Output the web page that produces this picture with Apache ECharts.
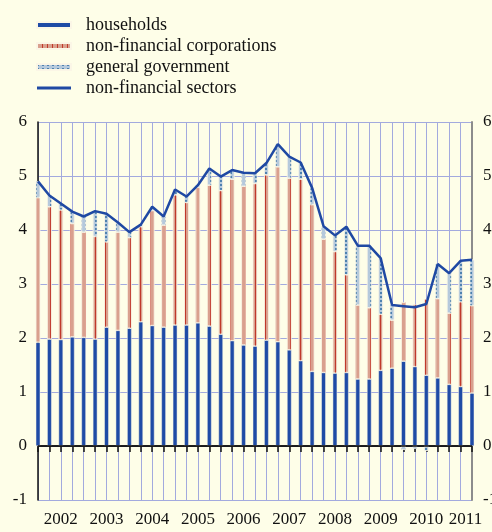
<!DOCTYPE html>
<html>
<head>
<meta charset="utf-8">
<script src="https://cdn.jsdelivr.net/npm/echarts@6/dist/echarts.min.js"></script>
<style>
  html, body { margin: 0; padding: 0; background: #fefee8; }
  #chart { width: 492px; height: 532px; }
</style>
</head>
<body>
<div id="chart"></div>
<script>
// Quarterly, 2002 Q1 - 2011 Q3
const years = ['2002', '2003', '2004', '2005', '2006', '2007', '2008', '2009', '2010', '2011'];
const categories = [];
years.forEach((y) => ['Q1', 'Q2', 'Q3', 'Q4'].forEach((q) => categories.push(y + q)));
categories.length = 39;

const households = [1.92, 1.98, 1.97, 2.02, 2.01, 1.98, 2.20, 2.14, 2.18, 2.30, 2.23, 2.20, 2.24,
  2.24, 2.28, 2.22, 2.07, 1.95, 1.87, 1.85, 1.96, 1.93, 1.78, 1.58, 1.38, 1.36, 1.35, 1.36,
  1.24, 1.24, 1.40, 1.44, 1.57, 1.47, 1.31, 1.26, 1.14, 1.10, 0.98];
const corporations = [2.68, 2.45, 2.40, 2.10, 1.95, 1.90, 1.58, 1.82, 1.68, 1.76, 2.13, 1.89, 2.41,
  2.27, 2.51, 2.61, 2.66, 2.99, 2.94, 3.01, 3.06, 3.24, 3.18, 3.36, 3.09, 2.47, 2.25, 1.81,
  1.37, 1.32, 1.04, 0.89, 1.09, 1.15, 1.41, 1.47, 1.32, 1.57, 1.62];
const government = [0.30, 0.21, 0.12, 0.22, 0.29, 0.47, 0.52, 0.18, 0.10, 0.04, 0.07, 0.16, 0.10,
  0.11, 0.04, 0.31, 0.26, 0.17, 0.25, 0.19, 0.22, 0.42, 0.40, 0.31, 0.31, 0.24, 0.30, 0.89,
  1.10, 1.15, 1.04, 0.28, -0.07, -0.05, -0.09, 0.64, 0.74, 0.76, 0.85];
const nonFinancial = [4.90, 4.64, 4.49, 4.34, 4.25, 4.35, 4.30, 4.14, 3.96, 4.10, 4.43, 4.25, 4.75,
  4.62, 4.83, 5.14, 4.99, 5.11, 5.06, 5.05, 5.24, 5.59, 5.36, 5.25, 4.78, 4.07, 3.90, 4.06,
  3.71, 3.71, 3.48, 2.61, 2.59, 2.57, 2.63, 3.37, 3.20, 3.43, 3.45];

const font = '"Liberation Serif", "DejaVu Serif", serif';
const gridColor = '#a3aade';
const c = {
  blue: '#1f4ba6',
  salmon: '#d9a08e',
  red: '#c0392b',
  govFill: '#b5c9dc',
  govLine: '#4f82b0',
  line: '#1f49a3',
  edge: '#fbf6e6',
};

const chart = echarts.init(document.getElementById('chart'), null, { renderer: 'canvas' });

const barBase = { type: 'bar', stack: 'total', barWidth: 4.5, clip: false };

chart.setOption({
  backgroundColor: '#fefee8',
  animation: false,
  textStyle: { fontFamily: font, color: '#111' },
  legend: {
    orient: 'vertical',
    left: 36,
    top: 16,
    padding: 0,
    itemWidth: 34,
    itemHeight: 6,
    itemGap: 3,
    symbolKeepAspect: true,
    textStyle: { fontFamily: font, fontSize: 18, color: '#111', padding: [0, 0, 0, 10] },
    data: [
      { name: 'households', icon: 'rect' },
      { name: 'non-financial corporations', icon: 'rect' },
      { name: 'general government', icon: 'rect' },
      { name: 'non-financial sectors', icon: 'path://M0,0H34V3H0Z', itemStyle: { color: c.line } },
    ],
  },
  grid: { left: 38, right: 20, top: 122, bottom: 32, outerBoundsMode: 'none' },
  xAxis: {
    type: 'category',
    data: categories,
    boundaryGap: false,
    axisLine: { lineStyle: { color: '#111', width: 1.5 } },
    axisTick: { interval: 0, length: 6, lineStyle: { color: '#111', width: 1.5 } },
    axisLabel: {
      interval: (i) => i % 4 === 2,
      // last year sits at the plot edge, nudge it left a little
      formatter: (v, i) => (i === categories.length - 1 ? '{last|' + v.slice(0, 4) + '}' : v.slice(0, 4)),
      rich: { last: { fontSize: 17, fontFamily: font, color: '#111', padding: [0, 13, 0, 0] } },
      fontSize: 17,
      color: '#111',
      margin: 11,
    },
    splitLine: { show: true, interval: 0, lineStyle: { color: gridColor, width: 1 } },
  },
  yAxis: [
    {
      type: 'value', min: -1, max: 6, interval: 1,
      axisLine: { show: true, lineStyle: { color: '#111', width: 1.5 } },
      axisTick: { show: false },
      axisLabel: { fontSize: 17, color: '#111', margin: 11 },
      splitLine: { lineStyle: { color: gridColor, width: 1 } },
    },
    {
      type: 'value', min: -1, max: 6, interval: 1, position: 'right',
      axisLine: { show: true, lineStyle: { color: '#8c8c8c', width: 2 } },
      axisTick: { show: false },
      axisLabel: { fontSize: 17, color: '#111', margin: 11 },
      splitLine: { show: false },
    },
  ],
  series: [
    {
      ...barBase,
      name: 'households',
      data: households,
      itemStyle: { color: c.blue, borderColor: c.edge, borderWidth: 0.5 },
    },
    {
      ...barBase,
      name: 'non-financial corporations',
      data: corporations,
      itemStyle: {
        color: c.salmon, borderColor: c.edge, borderWidth: 0.5,
        decal: { symbol: 'rect', symbolSize: 1, color: c.red, dashArrayX: [1, 4], dashArrayY: [4, 0] },
      },
    },
    {
      ...barBase,
      name: 'general government',
      data: government,
      itemStyle: {
        color: c.govFill, borderColor: c.edge, borderWidth: 0.5,
        decal: { symbol: 'rect', symbolSize: 1, color: c.govLine, dashArrayX: [1.5, 3], dashArrayY: [2, 1.5] },
      },
    },
    {
      type: 'line',
      name: 'non-financial sectors',
      data: nonFinancial,
      symbol: 'none',
      lineStyle: { color: c.line, width: 2.5 },
      itemStyle: { color: c.line },
      z: 5,
      markLine: {
        silent: true,
        symbol: 'none',
        label: { show: false },
        lineStyle: { color: '#111', width: 1.5, type: 'solid' },
        data: [{ yAxis: 0 }],
      },
    },
  ],
});
</script>
</body>
</html>
